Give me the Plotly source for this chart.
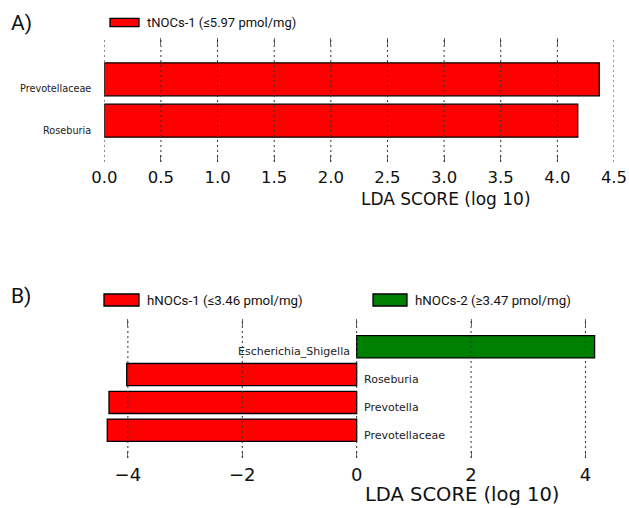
import plotly.graph_objects as go

# ---------------- data ----------------
taxa_A = ["Roseburia", "Prevotellaceae"]
lda_A = [4.18, 4.37]
legend_A = "tNOCs-1 (≤5.97 pmol/mg)"
ticks_A = [0.0, 0.5, 1.0, 1.5, 2.0, 2.5, 3.0, 3.5, 4.0, 4.5]
ticktext_A = ["0.0", "0.5", "1.0", "1.5", "2.0", "2.5", "3.0", "3.5", "4.0", "4.5"]

taxa_B = ["Prevotellaceae", "Prevotella", "Roseburia", "Escherichia_Shigella"]
lda_B = [-4.36, -4.33, -4.02, 4.16]
legend_B1 = "hNOCs-1 (≤3.46 pmol/mg)"
legend_B2 = "hNOCs-2 (≥3.47 pmol/mg)"
ticks_B = [-4, -2, 0, 2, 4]

x_title = "LDA SCORE (log 10)"

# ---------------- style ----------------
W, H = 629, 508
RED, GREEN = "#FF0000", "#008000"
TICKFONT = "DejaVu Sans"
LEGFONT = "Roboto"


def px(x):
    return x / W


def py(y):
    return 1 - y / H


fig = go.Figure()

# Panel A bars
yA = list(range(len(taxa_A)))
fig.add_trace(go.Bar(
    x=lda_A, y=yA, orientation="h", width=0.8,
    marker=dict(color=RED, line=dict(color="black", width=1.3)),
    xaxis="x", yaxis="y", showlegend=False, name=legend_A,
    hovertext=taxa_A,
))

# Panel B bars, split by group
yB = list(range(len(taxa_B)))
neg_y = [yy for yy, v in zip(yB, lda_B) if v < 0]
neg_x = [v for v in lda_B if v < 0]
pos_y = [yy for yy, v in zip(yB, lda_B) if v >= 0]
pos_x = [v for v in lda_B if v >= 0]
fig.add_trace(go.Bar(
    x=neg_x, y=neg_y, orientation="h", width=0.8,
    marker=dict(color=RED, line=dict(color="black", width=1.3)),
    xaxis="x2", yaxis="y2", showlegend=False, name=legend_B1,
))
fig.add_trace(go.Bar(
    x=pos_x, y=pos_y, orientation="h", width=0.8,
    marker=dict(color=GREEN, line=dict(color="black", width=1.3)),
    xaxis="x2", yaxis="y2", showlegend=False, name=legend_B2,
))

common_x = dict(
    showgrid=False, zeroline=False, ticks="inside", ticklen=7, tickwidth=1,
    tickcolor="#666", mirror="ticks", showline=True, linecolor="rgba(0,0,0,0)",
    fixedrange=True, automargin=False,
)
common_y = dict(showgrid=False, zeroline=False, showticklabels=False,
                showline=False, ticks="", fixedrange=True, automargin=False)

fig.update_layout(
    width=W, height=H,
    margin=dict(l=0, r=0, t=0, b=0, autoexpand=False),
    paper_bgcolor="white", plot_bgcolor="white",
    barmode="overlay",
    xaxis=dict(domain=[px(104.3), px(614)], range=[0, 4.5], anchor="y",
               tickvals=ticks_A, ticktext=ticktext_A,
               tickfont=dict(family=TICKFONT, size=16.5, color="#111"),
               ticklabelstandoff=0, **common_x),
    yaxis=dict(domain=[py(162), py(38)], range=[-1, 2], anchor="x", **common_y),
    xaxis2=dict(domain=[px(105), px(602.6)], range=[-4.4, 4.3], anchor="y2",
                tickvals=ticks_B,
                tickfont=dict(family=TICKFONT, size=18, color="#111"),
                ticklabelstandoff=0, **common_x),
    yaxis2=dict(domain=[py(458), py(319)], range=[-1, 4], anchor="x2", **common_y),
)

shapes = []
# dotted gridlines drawn over the bars
for t in ticks_A:
    shapes.append(dict(type="line", xref="x", yref="y domain", x0=t, x1=t, y0=0, y1=1,
                       line=dict(color="#333", width=1, dash="2px,3px"), layer="above"))
for t in ticks_B:
    shapes.append(dict(type="line", xref="x2", yref="y2 domain", x0=t, x1=t, y0=0, y1=1,
                       line=dict(color="#333", width=1, dash="2px,3px"), layer="above"))

# legend patches
def patch(x0, x1, y0, y1, color):
    shapes.append(dict(type="rect", xref="paper", yref="paper",
                       x0=px(x0), x1=px(x1), y0=py(y1), y1=py(y0),
                       fillcolor=color, line=dict(color="black", width=1.3)))

patch(110, 139, 18.3, 26.7, RED)
patch(104, 139, 294, 306, RED)
patch(373, 407, 294, 306, GREEN)

annotations = []

def text(x, y, s, size, family=LEGFONT, anchor="left", color="#111"):
    annotations.append(dict(xref="paper", yref="paper", x=px(x), y=py(y), text=s,
                            showarrow=False, xanchor=anchor, yanchor="middle",
                            font=dict(family=family, size=size, color=color)))

text(145, 22.5, legend_A, 13)
text(145, 300.5, legend_B1, 13.3)
text(413, 300.5, legend_B2, 13.3)
text(9, 23, "A)", 21)
text(9, 296, "B)", 21)
text(359, 199, x_title, 17, family=TICKFONT)
text(362.5, 494.5, x_title, 19.5, family=TICKFONT)

# taxon labels (panel A: left of axis)
for yy, name in zip(yA, taxa_A):
    annotations.append(dict(xref="x", yref="y", x=0, y=yy - 0.23, text=name,
                            showarrow=False, xanchor="right", yanchor="middle", xshift=-11,
                            font=dict(family=TICKFONT, size=9.7, color="#222")))
# panel B labels on opposite side of zero
for yy, name, v in zip(yB, taxa_B, lda_B):
    annotations.append(dict(xref="x2", yref="y2", x=0, y=yy - 0.18, text=name,
                            showarrow=False,
                            xanchor="left" if v < 0 else "right",
                            xshift=5 if v < 0 else -5,
                            yanchor="middle",
                            font=dict(family=TICKFONT, size=11, color="#222")))

fig.update_layout(shapes=shapes, annotations=annotations)
fig.write_html(
    "out.html",
    config={"displayModeBar": False},
    post_script="document.body.style.margin='0';document.body.style.overflow='hidden';",
)
